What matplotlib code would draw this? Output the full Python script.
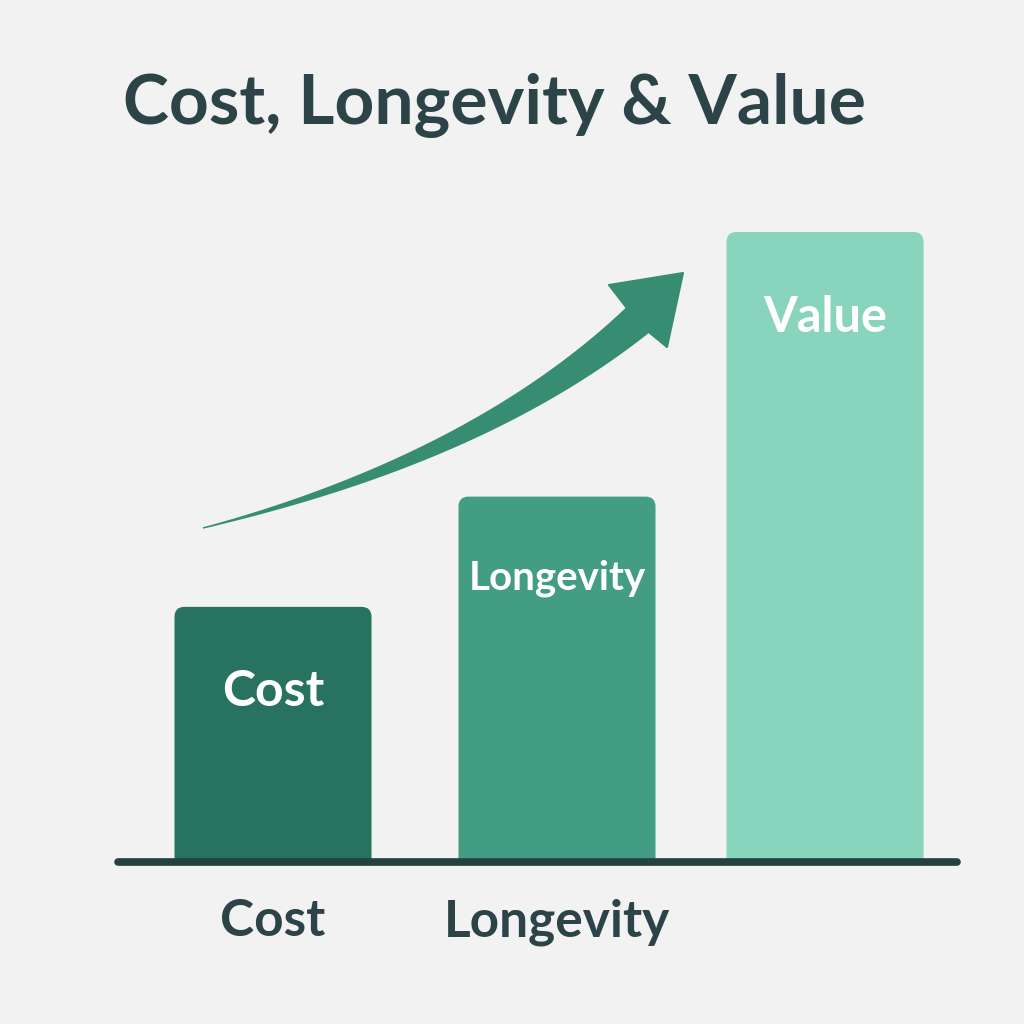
import matplotlib.pyplot as plt
import numpy as np
from matplotlib.patches import FancyBboxPatch, Polygon

# data
categories = ["Cost", "Longevity", "Value"]
values = [40.5, 58, 100]
bar_colors = ["#27735f", "#439d83", "#88d4bc"]
axis_labels = ["Cost", "Longevity", ""]

# layout (pixels on a 1024 canvas)
W = 1024
centers = [273, 557, 825]
bar_w = 197
baseline_y = 862
px_per_unit = 6.3
title_color = "#2c4347"
arrow_color = "#378d72"
bg = "#f2f2f2"

plt.rcParams["font.family"] = ["Lato", "DejaVu Sans"]

fig = plt.figure(figsize=(10.24, 10.24), dpi=100, facecolor=bg)

# bar axes: bottom edge on the baseline, y in value units
h_units = 110
ax = fig.add_axes([0, (W - baseline_y) / W, 1, h_units * px_per_unit / W])
ax.set_xlim(0, W)
ax.set_ylim(0, h_units)
ax.axis("off")

r = 10
for cx, v, c, name in zip(centers, values, bar_colors, categories):
    p = FancyBboxPatch((cx - bar_w / 2, -5), bar_w, v + 5,
                       boxstyle=f"round,pad=0,rounding_size={r}",
                       mutation_aspect=1 / px_per_unit,
                       facecolor=c, edgecolor="none", clip_on=True)
    ax.add_patch(p)

# overlay in pixel coordinates for text and decorations
ov = fig.add_axes([0, 0, 1, 1], facecolor="none")
ov.set_xlim(0, W)
ov.set_ylim(W, 0)
ov.axis("off")

ov.text(123, 105, "Cost, Longevity & Value", fontsize=50, fontweight="bold",
        color=title_color, ha="left", va="center")

# labels inside bars
inner_y = [692, 578, 318]
inner_size = [36, 29, 35]
for cx, y, s, name in zip(centers, inner_y, inner_size, categories):
    ov.text(cx, y, name, fontsize=s, fontweight="bold", color="white",
            ha="center", va="center")

# category labels under the axis
for cx, lab in zip(centers, axis_labels):
    if lab:
        ov.text(cx, 922, lab, fontsize=37, fontweight="bold", color=title_color,
                ha="center", va="center")

# baseline
ov.plot([118, 957], [baseline_y, baseline_y], color="#24403f", lw=5.5,
        solid_capstyle="round")

# tapered curved arrow
P0 = np.array([203, 528.0])
P1 = np.array([480, 458.0])
P2 = np.array([640, 318.0])
t = np.linspace(0, 1, 200)[:, None]
pts = (1 - t) ** 2 * P0 + 2 * (1 - t) * t * P1 + t ** 2 * P2
d = 2 * (1 - t) * (P1 - P0) + 2 * t * (P2 - P1)
d = d / np.linalg.norm(d, axis=1, keepdims=True)
n = np.column_stack([d[:, 1], -d[:, 0]])
w = (1.5 + 33 * t[:, 0] ** 1.2) / 2
upper = pts + n * w[:, None]
lower = pts - n * w[:, None]
shaft = np.vstack([upper, lower[::-1]])
ov.add_patch(Polygon(shaft, closed=True, facecolor=arrow_color, edgecolor="none"))
head = [(683, 273), (609, 285), (626, 307), (650, 333), (667, 347)]
ov.add_patch(Polygon(head, closed=True, facecolor=arrow_color, edgecolor=arrow_color,
                     lw=1.5, joinstyle="round"))

fig.savefig("out.png", dpi=100, facecolor=bg)
